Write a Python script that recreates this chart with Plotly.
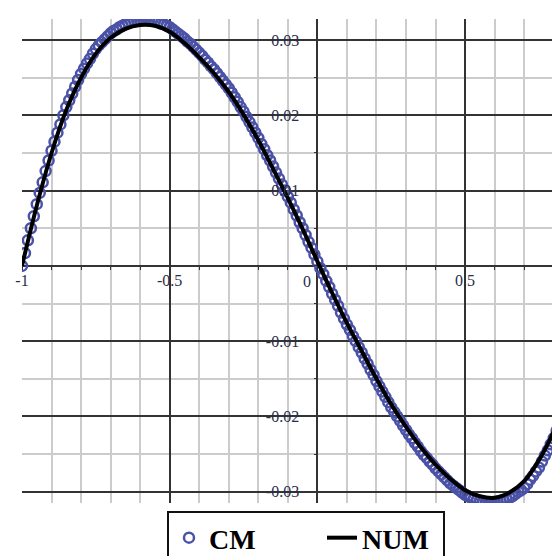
import plotly.graph_objects as go

# CM samples every 0.01 from -1 to 1
cm_x = [round(-1 + i * 0.01, 2) for i in range(201)]
cm_y = [
    0.0000, 0.0017, 0.0034, 0.0050, 0.0066,
    0.0082, 0.0097, 0.0111, 0.0126, 0.0140,
    0.0153, 0.0165, 0.0177, 0.0188, 0.0200,
    0.0211, 0.0220, 0.0229, 0.0238, 0.0247,
    0.0255, 0.0262, 0.0269, 0.0275, 0.0282,
    0.0288, 0.0293, 0.0297, 0.0301, 0.0305,
    0.0309, 0.0312, 0.0314, 0.0317, 0.0319,
    0.0321, 0.0323, 0.0324, 0.0325, 0.0326,
    0.0326, 0.0327, 0.0327, 0.0326, 0.0326,
    0.0325, 0.0324, 0.0322, 0.0321, 0.0319,
    0.0317, 0.0314, 0.0311, 0.0308, 0.0305,
    0.0302, 0.0298, 0.0295, 0.0291, 0.0287,
    0.0283, 0.0279, 0.0274, 0.0270, 0.0265,
    0.0261, 0.0256, 0.0251, 0.0246, 0.0241,
    0.0236, 0.0230, 0.0224, 0.0218, 0.0211,
    0.0205, 0.0198, 0.0191, 0.0184, 0.0177,
    0.0170, 0.0162, 0.0155, 0.0147, 0.0140,
    0.0132, 0.0124, 0.0116, 0.0108, 0.0100,
    0.0092, 0.0084, 0.0075, 0.0067, 0.0058,
    0.0050, 0.0041, 0.0032, 0.0024, 0.0015,
    0.0006, -0.0003, -0.0011, -0.0020, -0.0028,
    -0.0037, -0.0045, -0.0053, -0.0062, -0.0070,
    -0.0078, -0.0085, -0.0093, -0.0100, -0.0108,
    -0.0115, -0.0123, -0.0130, -0.0138, -0.0145,
    -0.0153, -0.0160, -0.0167, -0.0174, -0.0181,
    -0.0188, -0.0194, -0.0200, -0.0206, -0.0212,
    -0.0218, -0.0224, -0.0229, -0.0235, -0.0240,
    -0.0246, -0.0251, -0.0255, -0.0260, -0.0264,
    -0.0269, -0.0273, -0.0277, -0.0281, -0.0285,
    -0.0289, -0.0292, -0.0295, -0.0298, -0.0301,
    -0.0304, -0.0306, -0.0308, -0.0309, -0.0311,
    -0.0312, -0.0313, -0.0314, -0.0314, -0.0314,
    -0.0314, -0.0313, -0.0312, -0.0311, -0.0310,
    -0.0308, -0.0306, -0.0303, -0.0300, -0.0298,
    -0.0295, -0.0290, -0.0284, -0.0279, -0.0273,
    -0.0268, -0.0260, -0.0252, -0.0245, -0.0237,
    -0.0229, -0.0219, -0.0209, -0.0199, -0.0189,
    -0.0179, -0.0166, -0.0154, -0.0141, -0.0128,
    -0.0116, -0.0101, -0.0086, -0.0072, -0.0057,
    -0.0042, -0.0025, -0.0007, 0.0010, 0.0028,
    0.0045,
]

# NUM solution, coarser samples
num_x = [-1.00, -0.95, -0.90, -0.85, -0.80, -0.75, -0.70, -0.65, -0.60, -0.55,
         -0.50, -0.45, -0.40, -0.35, -0.30, -0.25, -0.20, -0.15, -0.10, -0.05,
         0.00, 0.05, 0.10, 0.15, 0.20, 0.25, 0.30, 0.35, 0.40, 0.45,
         0.50, 0.55, 0.60, 0.65, 0.70, 0.75, 0.80, 0.85, 0.90, 0.95, 1.00]
num_y = [0.0000, 0.0080, 0.0150, 0.0207, 0.0250, 0.0282, 0.0303, 0.0315, 0.0320, 0.0319,
         0.0311, 0.0296, 0.0277, 0.0256, 0.0231, 0.0201, 0.0167, 0.0129, 0.0090, 0.0049,
         0.0006, -0.0036, -0.0076, -0.0113, -0.0150, -0.0184, -0.0214, -0.0241, -0.0264, -0.0283,
         -0.0298, -0.0306, -0.0308, -0.0301, -0.0286, -0.0258, -0.0220, -0.0170, -0.0108, -0.0035, 0.0050]

x_ticks = [-1, -0.5, 0, 0.5]
x_ticktext = ["-1", "-0.5", "", "0.5"]
y_ticks = [-0.03, -0.02, -0.01, 0, 0.01, 0.02, 0.03]
y_ticktext = ["-0.03", "-0.02", "-0.01", "", "0.01", "0.02", "0.03"]

X_RANGE = [-1, 0.8213]
Y_RANGE = [-0.0315, 0.0328]

tick_font = dict(family="Liberation Serif", size=16, color="#2a2d48")
major = "#333333"
minor = "#cccccc"

fig = go.Figure()
fig.add_trace(go.Scatter(
    x=cm_x, y=cm_y, mode="markers", name="CM", legendwidth=108,
    marker=dict(symbol="circle-open", size=10, color="#4a52a8",
                line=dict(width=2.5, color="#4a52a8")),
))
fig.add_trace(go.Scatter(
    x=num_x, y=num_y, mode="lines", name="NUM", legendwidth=76,
    line=dict(color="black", width=4, shape="spline"),
))

fig.add_annotation(x=0, y=0, text="0", showarrow=False,
                   xshift=-10, yshift=-16, font=tick_font)

fig.update_xaxes(
    range=X_RANGE, tickmode="array", tickvals=x_ticks, ticktext=x_ticktext,
    showgrid=True, gridcolor=major, gridwidth=1.5,
    zeroline=True, zerolinecolor=major, zerolinewidth=1.5,
    minor=dict(dtick=0.1, tick0=0, showgrid=True, gridcolor=minor, gridwidth=1.5,
               ticks="outside", ticklen=3, tickcolor=major),
    ticks="outside", ticklen=3, tickcolor=major,
    anchor="free", position=(0 - Y_RANGE[0]) / (Y_RANGE[1] - Y_RANGE[0]),
    showline=False, tickfont=tick_font, ticklabelstandoff=-3,
)
fig.update_yaxes(
    range=Y_RANGE, tickmode="array", tickvals=y_ticks, ticktext=y_ticktext,
    showgrid=True, gridcolor=major, gridwidth=1.5,
    zeroline=True, zerolinecolor=major, zerolinewidth=1.5,
    minor=dict(dtick=0.005, tick0=0, showgrid=True, gridcolor=minor, gridwidth=1.5,
               ticks="outside", ticklen=3, tickcolor=major),
    ticks="outside", ticklen=3, tickcolor=major,
    anchor="free", position=(0 - X_RANGE[0]) / (X_RANGE[1] - X_RANGE[0]),
    showline=False, tickfont=tick_font, ticklabelstandoff=12,
)

# the page adds an 8px body margin, so the figure is trimmed by 8 to fit the window
fig.update_layout(
    width=552, height=548,
    margin=dict(l=14, r=0, t=11, b=53, autoexpand=False),
    paper_bgcolor="white", plot_bgcolor="white",
    legend=dict(orientation="h", x=0.2695, y=-0.0165, xanchor="left", yanchor="top",
                bgcolor="white", bordercolor="#111111", borderwidth=2,
                font=dict(family="Liberation Serif", size=28, color="black", weight="bold")),
)

fig.write_html("out.html")
